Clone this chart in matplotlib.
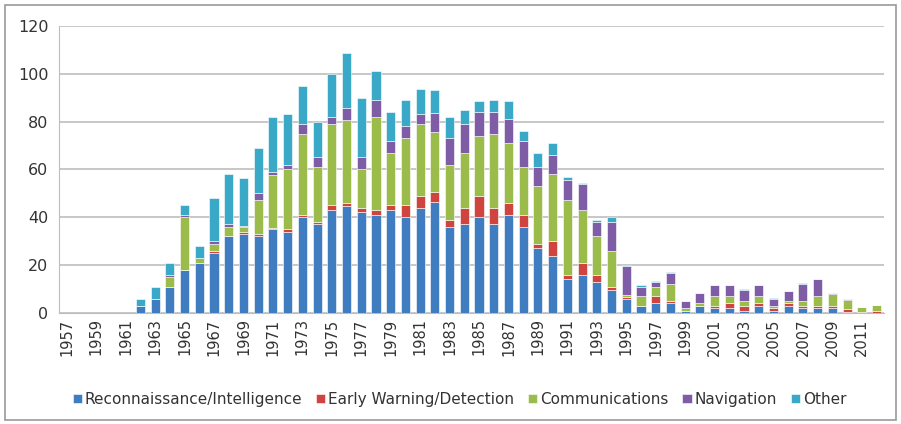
import numpy as np
import matplotlib.pyplot as plt
from matplotlib.patches import Rectangle

years = list(range(1957, 2013))

recon = [0, 0, 0, 0, 0,
         3, 6, 11, 18, 21, 25, 32, 33, 32, 35, 34, 40, 37, 43, 44.5, 42, 41, 43,
         40, 44, 46.5, 36, 37, 40, 37, 41, 36, 27, 24, 14, 16, 13, 9.5, 6, 3, 4,
         4, 1, 3, 2, 2, 1, 3, 1, 3, 2, 2, 2, 0.5, 0, 0]
early = [0, 0, 0, 0, 0,
         0, 0, 0, 0, 0, 1, 0, 1, 1, 0.5, 1, 1, 1, 2, 1.5, 2, 2, 2,
         5, 5, 4, 3, 7, 9, 7, 5, 5, 2, 6, 2, 5, 3, 1.5, 0.5, 0, 3,
         1, 0, 0, 1, 2, 2, 1, 1, 1, 1, 1, 1, 1, 0.5, 1]
comm = [0, 0, 0, 0, 0,
        0, 0, 4, 22, 2, 3, 4, 2, 14, 22, 25, 34, 23, 34, 34.5, 16, 39, 22,
        28, 30, 25, 23, 23, 25, 31, 25, 20, 24, 28, 31, 22, 16, 15, 1, 4, 4,
        7, 1, 1, 4, 3, 2, 3, 1, 1, 2, 4, 5, 4, 2, 2.5]
nav = [0, 0, 0, 0, 0,
       0, 0, 1, 1, 0, 1, 1, 0.5, 3, 1.5, 2, 4, 4, 3, 5, 5, 7, 5,
       5, 4, 8, 11, 12, 10, 9, 10, 11, 8, 8, 8.5, 11, 6, 12, 12, 4, 2,
       4.5, 3, 4.5, 4.5, 4.5, 4.5, 4.5, 3, 4, 7, 7, 0.5, 0.3, 0, 0]
other = [0, 0, 0, 0, 0,
         3, 5, 5, 4, 5, 18, 21, 20, 19, 23, 21, 16, 15, 18, 23, 25, 12, 12,
         11, 10.5, 9.5, 9, 6, 4.5, 5, 7.5, 4, 6, 5, 1.5, 0.5, 1, 2, 0.5, 0.5, 0.5,
         0.5, 0, 0, 0.3, 0.3, 0.3, 0.3, 0.3, 0.3, 0.3, 0.3, 0, 0, 0, 0]

series = [
    ('Reconnaissance/Intelligence', recon, '#3f7cc0'),
    ('Early Warning/Detection', early, '#d0443f'),
    ('Communications', comm, '#9bbb4a'),
    ('Navigation', nav, '#7e5ca6'),
    ('Other', other, '#3aa9c8'),
]

fig = plt.figure(figsize=(9.01, 4.24), dpi=100)
ax = fig.add_axes([0.066, 0.262, 0.915, 0.677])

x = np.arange(len(years))
bottom = np.zeros(len(years))
for name, vals, col in series:
    vals = np.array(vals, dtype=float)
    ax.bar(x, vals, 0.62, bottom=bottom, color=col, label=name,
           edgecolor='white', linewidth=0.4, zorder=3)
    bottom += vals

ax.set_ylim(0, 120)
ax.set_yticks(range(0, 121, 20))
ax.set_xlim(-0.5, len(years) - 0.5)
ax.set_xticks(x[::2])
ax.set_xticklabels([str(y) for y in years[::2]], rotation=90, fontsize=10.5)
ax.tick_params(axis='y', labelsize=11.5, length=0, pad=8)
ax.tick_params(axis='x', length=0, pad=4)
ax.grid(axis='y', color='#bdbdbd', linewidth=1.2, zorder=0)
for s in ['top', 'right']:
    ax.spines[s].set_visible(False)
ax.spines['left'].set_color('#bdbdbd')
ax.spines['bottom'].set_color('#bdbdbd')
for lab in ax.get_xticklabels() + ax.get_yticklabels():
    lab.set_color('#333333')

fig.legend(loc='center', bbox_to_anchor=(0.51, 0.058), ncol=5, frameon=False,
           fontsize=11, handlelength=0.6, handleheight=0.6, handletextpad=0.2,
           columnspacing=0.9, labelcolor='#333333')

fig.patches.append(Rectangle((0.006, 0.01), 0.988, 0.978, transform=fig.transFigure,
                             fill=False, edgecolor='#999999', linewidth=1.2))

fig.savefig('out.png', dpi=100)
